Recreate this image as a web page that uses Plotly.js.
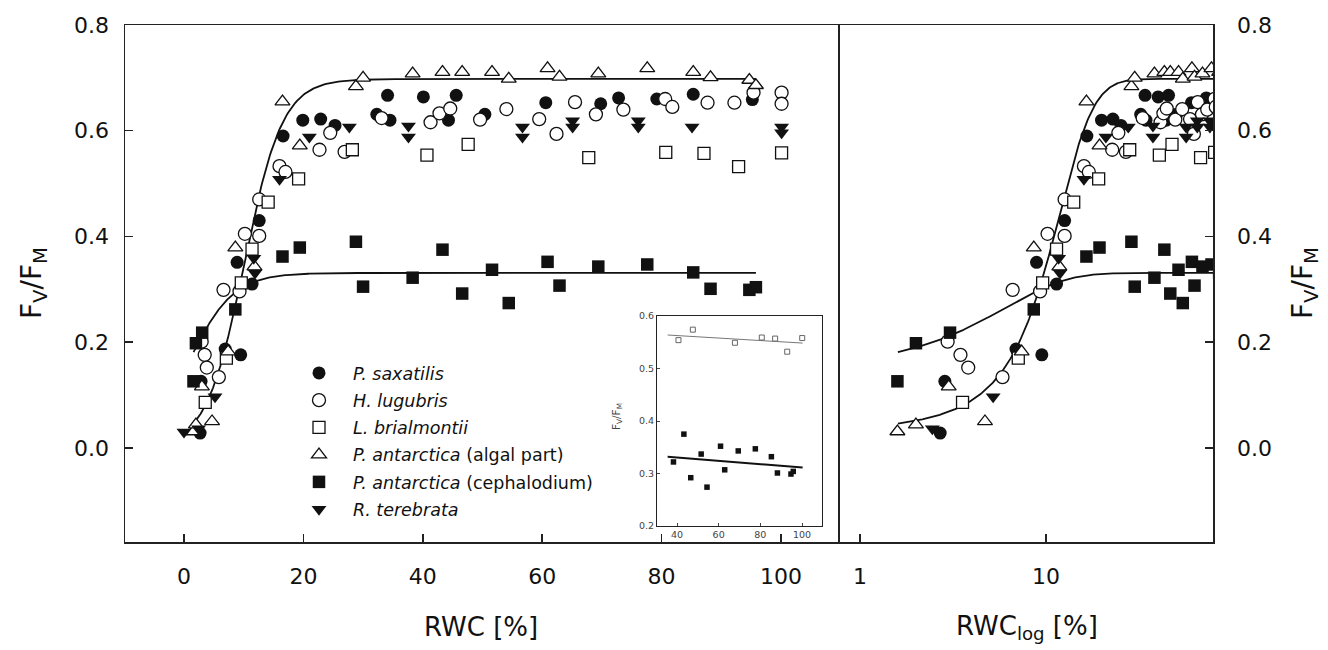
<!DOCTYPE html>
<html>
<head>
<meta charset="utf-8">
<script src="https://cdn.plot.ly/plotly-3.0.1.min.js"></script>
<style>html,body{margin:0;padding:0;background:#fff;}#chart{width:1328px;height:650px;}</style>
</head>
<body>
<div id="chart"></div>
<script>
// ---------------- DATA (RWC [%], Fv/Fm) ----------------
const seriesNames = [
  "<i>P. saxatilis</i>",
  "<i>H. lugubris</i>",
  "<i>L. brialmontii</i>",
  "<i>P. antarctica</i> (algal part)",
  "<i>P. antarctica</i> (cephalodium)",
  "<i>R. terebrata</i>"
];

const rwcSaxatilis = [2.7, 2.86, 6.9, 8.9, 9.5, 11.4, 12.6, 16.6, 19.9, 22.9, 25.3, 32.3, 34.1, 34.5, 40.1, 44.3, 45.6, 50.4, 60.6, 69.8, 72.8, 79.2, 85.3, 95.2];
const fvSaxatilis  = [0.028, 0.126, 0.187, 0.351, 0.176, 0.310, 0.430, 0.590, 0.620, 0.622, 0.610, 0.631, 0.667, 0.620, 0.664, 0.620, 0.667, 0.631, 0.653, 0.651, 0.662, 0.660, 0.669, 0.659];

const rwcLugubris = [2.96, 3.47, 3.82, 5.84, 6.62, 9.3, 10.2, 12.6, 12.6, 16.0, 17.0, 22.7, 24.5, 26.9, 33.1, 41.3, 42.8, 44.6, 49.6, 54.0, 59.5, 62.4, 65.5, 69.0, 73.6, 80.6, 81.8, 87.7, 92.2, 95.4, 100.1, 100.1];
const fvLugubris  = [0.201, 0.176, 0.152, 0.134, 0.299, 0.296, 0.405, 0.470, 0.401, 0.533, 0.522, 0.564, 0.596, 0.560, 0.624, 0.616, 0.633, 0.642, 0.621, 0.641, 0.622, 0.594, 0.654, 0.631, 0.640, 0.660, 0.645, 0.653, 0.653, 0.672, 0.672, 0.651];

const rwcBrialmontii = [3.56, 7.1, 9.6, 11.4, 14.1, 19.2, 28.2, 40.7, 47.6, 67.8, 80.7, 87.1, 92.9, 100.1];
const fvBrialmontii  = [0.086, 0.170, 0.312, 0.376, 0.465, 0.509, 0.564, 0.554, 0.574, 0.549, 0.559, 0.557, 0.532, 0.558];

const rwcAlgal = [1.59, 2.0, 3.0, 4.7, 7.4, 8.6, 11.8, 16.5, 19.4, 28.8, 30.0, 38.3, 43.3, 46.6, 51.6, 54.4, 60.9, 62.9, 69.4, 77.6, 85.3, 88.2, 94.7, 95.8];
const fvAlgal  = [0.031, 0.044, 0.116, 0.050, 0.182, 0.379, 0.343, 0.655, 0.572, 0.684, 0.700, 0.708, 0.711, 0.711, 0.711, 0.698, 0.718, 0.702, 0.708, 0.718, 0.711, 0.701, 0.696, 0.686];

const rwcCephal = [1.59, 2.0, 3.05, 8.6, 16.5, 19.4, 28.8, 30.0, 38.3, 43.3, 46.6, 51.6, 54.4, 60.9, 62.9, 69.4, 77.6, 85.3, 88.2, 94.7, 95.8];
const fvCephal  = [0.126, 0.198, 0.218, 0.262, 0.362, 0.379, 0.390, 0.305, 0.322, 0.375, 0.292, 0.337, 0.274, 0.352, 0.307, 0.343, 0.347, 0.332, 0.301, 0.299, 0.304];

const rwcTerebrata = [0.0, 2.45, 5.2, 11.7, 11.9, 16.0, 21.0, 27.7, 37.6, 37.6, 56.7, 56.7, 65.1, 65.1, 76.1, 76.1, 85.1, 100.1, 100.1];
const fvTerebrata  = [0.030, 0.036, 0.097, 0.359, 0.331, 0.508, 0.588, 0.607, 0.609, 0.588, 0.607, 0.588, 0.619, 0.607, 0.619, 0.607, 0.607, 0.607, 0.596];

// Sigmoid fits: F = a / (1 + exp(-(RWC - x0) / b))
const fitPlateauHigh = {a: 0.698, x0: 10.1, b: 3.2, from: 1.6, to: 95.8};
const fitPlateauLow  = {a: 0.331, x0: 0.9,  b: 3.7, from: 1.6, to: 95.8};

// Inset: data with RWC above this threshold, linear regression lines
const insetMinRwc = 35;
const insetLineFrom = 35.5, insetLineTo = 100.3;

// Tick labels
const xTicksLin = [0, 20, 40, 60, 80, 100];
const xTicksLog = [1, 10];
const yTicks = [0, 0.2, 0.4, 0.6, 0.8];
const insetXTicks = [40, 60, 80, 100];
const insetYTicks = [0.2, 0.3, 0.4, 0.5, 0.6];

// ---------------- BUILD ----------------
const BLK = '#111';
const FONT = 'DejaVu Sans, Liberation Sans, Arial, sans-serif';
const styles = [
  {symbol: 'circle', color: BLK, line: {color: BLK, width: 0}},
  {symbol: 'circle', color: 'white', line: {color: BLK, width: 1.3}},
  {symbol: 'square', color: 'white', line: {color: BLK, width: 1.3}},
  {symbol: 'triangle-up', color: 'white', line: {color: BLK, width: 1.3}},
  {symbol: 'square', color: BLK, line: {color: BLK, width: 0}},
  {symbol: 'triangle-down', color: BLK, line: {color: BLK, width: 0}}
];
const sizes = [13, 13, 12, 13, 12.5, 13];
const allX = [rwcSaxatilis, rwcLugubris, rwcBrialmontii, rwcAlgal, rwcCephal, rwcTerebrata];
const allY = [fvSaxatilis, fvLugubris, fvBrialmontii, fvAlgal, fvCephal, fvTerebrata];

function sigmoidCurve(p) {
  const xs = [], ys = [];
  const n = 300;
  const l0 = Math.log10(p.from), l1 = Math.log10(p.to);
  for (let i = 0; i <= n; i++) {
    const x = Math.pow(10, l0 + (l1 - l0) * i / n);
    xs.push(x);
    ys.push(p.a / (1 + Math.exp(-(x - p.x0) / p.b)));
  }
  return {xs, ys};
}
function linreg(xs, ys) {
  const n = xs.length;
  const mx = xs.reduce((a, b) => a + b, 0) / n;
  const my = ys.reduce((a, b) => a + b, 0) / n;
  let sxy = 0, sxx = 0;
  for (let i = 0; i < n; i++) { sxy += (xs[i] - mx) * (ys[i] - my); sxx += (xs[i] - mx) ** 2; }
  const k = sxy / sxx;
  return {k, c: my - k * mx};
}

const traces = [];
const cHigh = sigmoidCurve(fitPlateauHigh);
const cLow = sigmoidCurve(fitPlateauLow);
[['x', 'y'], ['x2', 'y2']].forEach(([xa, ya]) => {
  [cHigh, cLow].forEach(c => traces.push({
    x: c.xs, y: c.ys, xaxis: xa, yaxis: ya, type: 'scatter', mode: 'lines',
    line: {color: BLK, width: 1.8}, showlegend: false, hoverinfo: 'skip'
  }));
});
[['x', 'y', true], ['x2', 'y2', false]].forEach(([xa, ya, leg]) => {
  for (let i = 0; i < 6; i++) {
    let xs = allX[i], ys = allY[i];
    if (xa === 'x2') {
      const fx = [], fy = [];
      xs.forEach((v, j) => { if (v > 0) { fx.push(v); fy.push(ys[j]); } });
      xs = fx; ys = fy;
    }
    traces.push({
      x: xs, y: ys, xaxis: xa, yaxis: ya, type: 'scatter', mode: 'markers',
      name: seriesNames[i], legendgroup: 'g' + i, showlegend: leg,
      marker: {symbol: styles[i].symbol, size: sizes[i], color: styles[i].color, line: styles[i].line}
    });
  }
});

// Inset
function subset(xs, ys) {
  const ox = [], oy = [];
  xs.forEach((v, j) => { if (v >= insetMinRwc) { ox.push(v); oy.push(ys[j]); } });
  return {ox, oy};
}
const inB = subset(rwcBrialmontii, fvBrialmontii);
const inC = subset(rwcCephal, fvCephal);
const rB = linreg(inB.ox, inB.oy);
const rC = linreg(inC.ox, inC.oy);
traces.push({x: [insetLineFrom, insetLineTo], y: [rB.c + rB.k * insetLineFrom, rB.c + rB.k * insetLineTo],
  xaxis: 'x3', yaxis: 'y3', mode: 'lines', line: {color: '#777', width: 1}, showlegend: false, hoverinfo: 'skip'});
traces.push({x: [insetLineFrom, insetLineTo], y: [rC.c + rC.k * insetLineFrom, rC.c + rC.k * insetLineTo],
  xaxis: 'x3', yaxis: 'y3', mode: 'lines', line: {color: BLK, width: 2}, showlegend: false, hoverinfo: 'skip'});
traces.push({x: inB.ox, y: inB.oy, xaxis: 'x3', yaxis: 'y3', mode: 'markers', showlegend: false,
  marker: {symbol: 'square', size: 5, color: 'white', line: {color: '#666', width: 1}}});
traces.push({x: inC.ox, y: inC.oy, xaxis: 'x3', yaxis: 'y3', mode: 'markers', showlegend: false,
  marker: {symbol: 'square', size: 5.5, color: BLK, line: {width: 0}}});

const W = 1328, H = 650;
const yDom = [1 - 542 / H, 1 - 25 / H];
const yRange = [-0.178, 0.8];
const common = {showline: true, mirror: true, linecolor: '#222', linewidth: 1.5, ticks: 'inside', ticklen: 8,
  tickwidth: 1.5, tickcolor: '#222', showgrid: false, zeroline: false, tickfont: {size: 22, color: BLK, family: FONT}};

const layout = {
  width: W, height: H, margin: {l: 0, r: 0, t: 0, b: 0},
  paper_bgcolor: 'white', plot_bgcolor: 'white',
  font: {family: FONT, color: BLK},
  showlegend: true,
  legend: {x: 285 / W, y: 1 - 355 / H, xanchor: 'left', yanchor: 'top', bgcolor: 'rgba(0,0,0,0)',
    font: {size: 17.5, family: FONT, color: BLK}, tracegroupgap: 1.5, traceorder: 'grouped', itemwidth: 58},
  xaxis: Object.assign({}, common, {domain: [125 / W, 838 / W], range: [-9.88, 109.55], anchor: 'y',
    tickvals: xTicksLin, ticklabelstandoff: 14}),
  yaxis: Object.assign({}, common, {domain: yDom, range: yRange, anchor: 'x', tickvals: yTicks, tickformat: '.1f',
    ticklabelstandoff: 10}),
  xaxis2: Object.assign({}, common, {domain: [838 / W, 1213 / W], type: 'log', range: [-0.118, 1.898], anchor: 'y2',
    tickvals: xTicksLog, ticktext: xTicksLog.map(String), ticklabelstandoff: 14}),
  yaxis2: Object.assign({}, common, {domain: yDom, range: yRange, anchor: 'x2', side: 'right', mirror: false,
    tickvals: yTicks, tickformat: '.1f', ticklabelstandoff: 18}),
  xaxis3: {domain: [657 / W, 822 / W], range: [30.4, 109.6], anchor: 'y3', showline: true, mirror: true,
    linecolor: '#222', linewidth: 1, ticks: 'inside', ticklen: 3, tickcolor: '#444', tickvals: insetXTicks,
    showgrid: false, zeroline: false, tickfont: {size: 9.5, color: '#444', family: FONT}},
  yaxis3: {domain: [1 - 526 / H, 1 - 316 / H], range: [0.2, 0.6], anchor: 'x3', showline: true, mirror: true,
    linecolor: '#222', linewidth: 1, ticks: 'inside', ticklen: 3, tickcolor: '#444', tickvals: insetYTicks,
    tickformat: '.1f', showgrid: false, zeroline: false, tickfont: {size: 9.5, color: '#444', family: FONT}},
  annotations: [
    {text: 'RWC [%]', xref: 'paper', yref: 'paper', x: 481 / W, y: 1 - 627 / H, xanchor: 'center', yanchor: 'middle',
      showarrow: false, font: {size: 26, color: BLK}},
    {text: 'RWC<sub>log</sub> [%]', xref: 'paper', yref: 'paper', x: 1027 / W, y: 1 - 627 / H, xanchor: 'center',
      yanchor: 'middle', showarrow: false, font: {size: 26, color: BLK}},
    {text: 'F<sub>V</sub>/F<sub>M</sub>', xref: 'paper', yref: 'paper', x: 33 / W, y: 1 - 283 / H, xanchor: 'center',
      yanchor: 'middle', textangle: -90, showarrow: false, font: {size: 28, color: BLK}},
    {text: 'F<sub>V</sub>/F<sub>M</sub>', xref: 'paper', yref: 'paper', x: 1304 / W, y: 1 - 283 / H, xanchor: 'center',
      yanchor: 'middle', textangle: -90, showarrow: false, font: {size: 28, color: BLK}},
    {text: 'F<sub>V</sub>/F<sub>M</sub>', xref: 'paper', yref: 'paper', x: 617 / W, y: 1 - 417 / H, xanchor: 'center',
      yanchor: 'middle', textangle: -90, showarrow: false, font: {size: 10.5, color: '#444'}}
  ]
};

Plotly.newPlot('chart', traces, layout, {staticPlot: true, displayModeBar: false});
</script>
</body>
</html>
